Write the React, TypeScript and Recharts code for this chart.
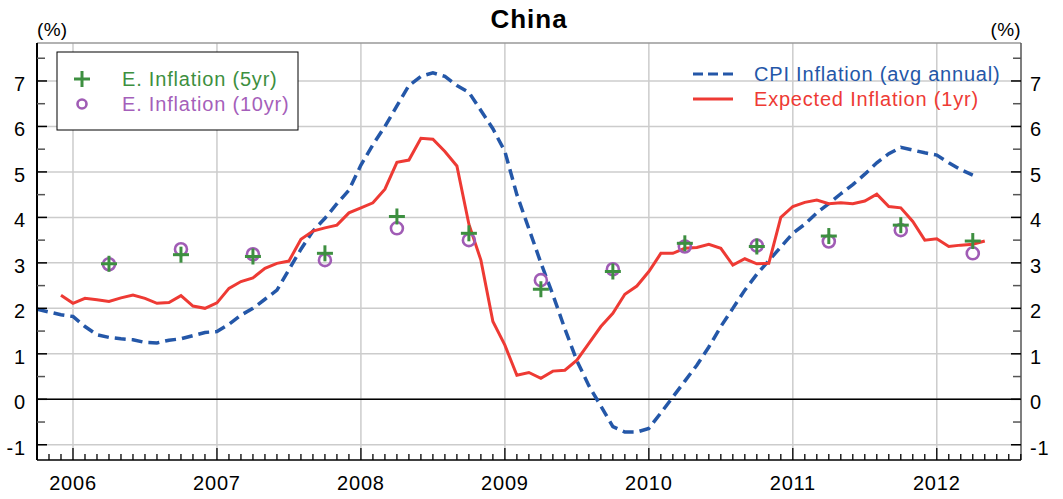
import { ComposedChart, Line, XAxis, YAxis, CartesianGrid, ReferenceLine } from "recharts";

const FONT = "'Liberation Sans', Arial, Helvetica, sans-serif";
const BLUE = "#2457a8";
const RED = "#ee3a34";
const GREEN = "#3d8f40";
const PURPLE = "#a05cb5";

// monthly CPI inflation, Oct 2005 .. Apr 2012
const CPI_START = 2005.75;
const cpiInflation = [
  1.98, 1.92, 1.86, 1.82, 1.6, 1.42, 1.36, 1.33, 1.31, 1.25, 1.24, 1.3, 1.33, 1.4, 1.47, 1.49, 1.65, 1.85,
  2.0, 2.2, 2.4, 2.85, 3.3, 3.7, 3.98, 4.3, 4.6, 5.15, 5.6, 6.0, 6.45, 6.9, 7.1, 7.18, 7.1, 6.9, 6.75, 6.35,
  5.95, 5.45, 4.5, 3.75, 3.0, 2.3, 1.55, 0.85, 0.3, -0.15, -0.6, -0.72, -0.72, -0.64, -0.3, 0.05, 0.4, 0.75,
  1.15, 1.6, 2.0, 2.4, 2.75, 3.05, 3.35, 3.65, 3.85, 4.1, 4.3, 4.52, 4.72, 4.95, 5.2, 5.4, 5.54, 5.48, 5.42,
  5.37, 5.2, 5.05, 4.93,
];

// monthly expected inflation (1yr), Dec 2005 .. May 2012
const EXP_START = 2005 + 11 / 12;
const expectedInflation = [
  2.29, 2.11, 2.22, 2.19, 2.15, 2.23, 2.29, 2.22, 2.11, 2.13, 2.28, 2.05, 2.0, 2.12, 2.44, 2.59, 2.67, 2.88,
  2.99, 3.04, 3.52, 3.7, 3.77, 3.83, 4.1, 4.21, 4.32, 4.62, 5.21, 5.26, 5.74, 5.72, 5.45, 5.13, 3.85, 3.06,
  1.71, 1.19, 0.53, 0.59, 0.46, 0.62, 0.64, 0.86, 1.23, 1.6, 1.89, 2.31, 2.49, 2.81, 3.21, 3.21, 3.32, 3.34,
  3.41, 3.32, 2.95, 3.09, 2.98, 2.99, 4.0, 4.24, 4.33, 4.38, 4.3, 4.32, 4.3, 4.36, 4.51, 4.24, 4.21, 3.91,
  3.5, 3.53, 3.36, 3.39, 3.41, 3.48,
];

// survey points (semi-annual)
const surveyDates = [
  2006.25, 2006.75, 2007.25, 2007.75, 2008.25, 2008.75, 2009.25, 2009.75, 2010.25, 2010.75, 2011.25, 2011.75,
  2012.25,
];
const eInflation5yr = [2.98, 3.18, 3.14, 3.21, 4.02, 3.65, 2.42, 2.81, 3.43, 3.36, 3.59, 3.83, 3.48];
const eInflation10yr = [2.97, 3.3, 3.19, 3.06, 3.76, 3.5, 2.62, 2.86, 3.36, 3.38, 3.47, 3.72, 3.21];

const yearTicks = [2006, 2007, 2008, 2009, 2010, 2011, 2012];
const yGridValues = [-1, 0, 1, 2, 3, 4, 5, 6, 7];
const X_DOMAIN = [2005.75, 2012.585];
const Y_DOMAIN = [-1.335, 7.835];

const monthly = (start: number, values: number[]) => values.map((v, i) => ({ t: start + i / 12, v }));
const cpiData = monthly(CPI_START, cpiInflation);
const expData = monthly(EXP_START, expectedInflation);
const e5Data = surveyDates.map((t, i) => ({ t, v: eInflation5yr[i] }));
const e10Data = surveyDates.map((t, i) => ({ t, v: eInflation10yr[i] }));

const monthTicks: number[] = [];
for (let m = 0; m <= 82; m++) monthTicks.push(2005.75 + m / 12);
const yTicks: number[] = [];
for (let v = -1; v <= 7.5; v += 0.5) yTicks.push(v);

const isWhole = (v: number) => Math.abs(v - Math.round(v)) < 1e-6;

const XTick = ({ x, y, payload }: any) => {
  const major = isWhole(payload.value);
  return (
    <g>
      <line x1={x} x2={x} y1={y} y2={y - (major ? 12 : 6)} stroke="#000" strokeWidth={1.3} />
      {major && (
        <text x={x} y={y + 30} textAnchor="middle" fontSize={20} letterSpacing={0.8} fontFamily={FONT} fill="#000">
          {Math.round(payload.value)}
        </text>
      )}
    </g>
  );
};

const YTick = ({ x, y, payload, side }: any) => {
  const major = isWhole(payload.value);
  const dir = side === "left" ? 1 : -1;
  return (
    <g>
      <line x1={x} x2={x + dir * (major ? 10 : 8)} y1={y} y2={y} stroke={major ? "#000" : "#555"} strokeWidth={1.5} />
      {major && (
        <text
          x={side === "left" ? x - 11 : x + 9}
          y={y + 10}
          textAnchor={side === "left" ? "end" : "start"}
          fontSize={20}
          letterSpacing={0.8}
          fontFamily={FONT}
          fill="#000"
        >
          {payload.value}
        </text>
      )}
    </g>
  );
};

const Plus = ({ cx, cy, size = 8 }: any) => (
  <g>
    <line x1={cx - size} x2={cx + size} y1={cy} y2={cy} stroke={GREEN} strokeWidth={3} />
    <line x1={cx} x2={cx} y1={cy - size} y2={cy + size} stroke={GREEN} strokeWidth={3} />
  </g>
);

const Ring = ({ cx, cy, r = 6 }: any) => (
  <circle cx={cx} cy={cy} r={r} fill="none" stroke={PURPLE} strokeWidth={2.6} />
);

const lineLegend = [
  { label: "CPI Inflation (avg annual)", color: BLUE, dash: "10 5", y: 74 },
  { label: "Expected Inflation (1yr)", color: RED, dash: undefined, y: 99 },
];
const markerLegend = [
  { label: "E. Inflation (5yr)", color: GREEN, kind: "plus", y: 79 },
  { label: "E. Inflation (10yr)", color: "#a55fba", kind: "ring", y: 104 },
];

export default function App() {
  return (
    <div style={{ position: "absolute", left: 0, top: 0, width: 1063, height: 499, background: "#fff" }}>
      <ComposedChart width={1063} height={499} margin={{ top: 43, right: 0, bottom: 0, left: 0 }}>
        <CartesianGrid
          yAxisId="left"
          stroke="#cccccc"
          strokeWidth={1.5}
          horizontalValues={yGridValues}
          verticalValues={yearTicks}
        />
        <XAxis
          dataKey="t"
          type="number"
          domain={X_DOMAIN}
          ticks={monthTicks}
          interval={0}
          height={39}
          tickSize={0}
          tickMargin={0}
          tick={<XTick />}
          axisLine={{ stroke: "#000", strokeWidth: 1.5 }}
          allowDataOverflow
        />
        <YAxis
          yAxisId="left"
          type="number"
          domain={Y_DOMAIN}
          ticks={yTicks}
          interval={0}
          width={37}
          tickSize={0}
          tickMargin={0}
          tick={<YTick side="left" />}
          axisLine={{ stroke: "#000", strokeWidth: 2 }}
          allowDataOverflow
        />
        <YAxis
          yAxisId="right"
          orientation="right"
          type="number"
          domain={Y_DOMAIN}
          ticks={yTicks}
          interval={0}
          width={42}
          tickSize={0}
          tickMargin={0}
          tick={<YTick side="right" />}
          axisLine={{ stroke: "#555", strokeWidth: 1.5 }}
          allowDataOverflow
        />
        <ReferenceLine yAxisId="left" y={Y_DOMAIN[1]} stroke="#999" strokeWidth={1.5} />
        <ReferenceLine yAxisId="left" y={0} stroke="#000" strokeWidth={1.5} />
        <Line
          yAxisId="left"
          data={cpiData}
          dataKey="v"
          type="linear"
          stroke={BLUE}
          strokeWidth={3.5}
          strokeDasharray="11 6"
          dot={false}
          activeDot={false}
          isAnimationActive={false}
        />
        <Line
          yAxisId="left"
          data={expData}
          dataKey="v"
          type="linear"
          stroke={RED}
          strokeWidth={3}
          dot={false}
          activeDot={false}
          isAnimationActive={false}
        />
        <Line
          yAxisId="left"
          data={e10Data}
          dataKey="v"
          stroke="none"
          dot={(p: any) => <Ring key={`r${p.index}`} cx={p.cx} cy={p.cy} />}
          activeDot={false}
          isAnimationActive={false}
        />
        <Line
          yAxisId="left"
          data={e5Data}
          dataKey="v"
          stroke="none"
          dot={(p: any) => <Plus key={`p${p.index}`} cx={p.cx} cy={p.cy} />}
          activeDot={false}
          isAnimationActive={false}
        />
      </ComposedChart>

      <svg width={1063} height={499} style={{ position: "absolute", left: 0, top: 0, pointerEvents: "none" }}>
        <text x={529} y={28} textAnchor="middle" fontSize={26} fontWeight="bold" letterSpacing={1} fontFamily={FONT}>
          China
        </text>
        <text x={37} y={36} fontSize={19} letterSpacing={0.3} fontFamily={FONT}>
          (%)
        </text>
        <text x={1021} y={36} textAnchor="end" fontSize={19} letterSpacing={0.3} fontFamily={FONT}>
          (%)
        </text>

        <rect x={57} y={52} width={241} height={78} fill="#fff" stroke="#000" strokeWidth={1} />
        {markerLegend.map((m) => (
          <g key={m.label}>
            {m.kind === "plus" ? <Plus cx={82} cy={m.y} size={8} /> : <Ring cx={82} cy={m.y} r={4.5} />}
            <text x={122} y={m.y + 7} fontSize={20} letterSpacing={0.8} fontFamily={FONT} fill={m.color}>
              {m.label}
            </text>
          </g>
        ))}

        {lineLegend.map((l) => (
          <g key={l.label}>
            <line x1={693} x2={733} y1={l.y} y2={l.y} stroke={l.color} strokeWidth={3} strokeDasharray={l.dash} />
            <text x={754} y={l.y + 7} fontSize={20} letterSpacing={0.8} fontFamily={FONT} fill={l.color}>
              {l.label}
            </text>
          </g>
        ))}
      </svg>
    </div>
  );
}
